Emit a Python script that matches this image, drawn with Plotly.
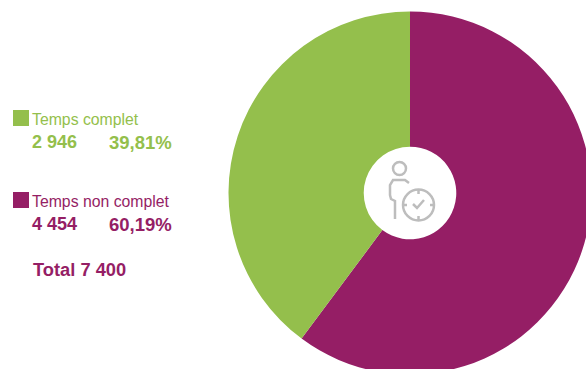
import plotly.graph_objects as go

categories = ["Temps non complet", "Temps complet"]
values = [4454, 2946]
colors = ["#951E65", "#94BF4C"]
counts = ["4 454", "2 946"]
percents = ["60,19%", "39,81%"]
total_label = "Total 7 400"

W, H = 594, 375
F = "Liberation Sans, Arial, sans-serif"
GRAY = "#BDBDBD"

def px(x):
    return x / W

def py(y):
    return 1 - y / H

fig = go.Figure(go.Pie(
    labels=categories, values=values, sort=False, direction="clockwise", rotation=0,
    hole=0.255, textinfo="none", hoverinfo="skip", showlegend=False,
    marker=dict(colors=colors, line=dict(width=0)),
    domain=dict(x=[228.5 / W, 591.5 / W], y=[1 - 374.5 / H, 1 - 11.5 / H]),
))

def text(x, y, s, color, size, bold=False):
    fig.add_annotation(
        x=px(x), y=py(y), xref="paper", yref="paper", xanchor="left", yanchor="middle",
        text=f"<b>{s}</b>" if bold else s, showarrow=False, align="left",
        font=dict(family=F, size=size, color=color), borderpad=0, borderwidth=0,
    )

def rect(x0, y0, x1, y1, color):
    fig.add_shape(type="rect", xref="paper", yref="paper", x0=px(x0), x1=px(x1),
                  y0=py(y0), y1=py(y1), fillcolor=color, line_width=0)

def circle(cx, cy, r):
    fig.add_shape(type="circle", xref="paper", yref="paper", x0=px(cx - r), x1=px(cx + r),
                  y0=py(cy - r), y1=py(cy + r), line=dict(color=GRAY, width=2.5),
                  fillcolor="rgba(0,0,0,0)")

def path(points):
    d = "M " + " L ".join(f"{px(x):.5f},{py(y):.5f}" for x, y in points)
    fig.add_shape(type="path", xref="paper", yref="paper", path=d,
                  line=dict(color=GRAY, width=2.5))

rect(13, 110, 29, 126, colors[1])
rect(13, 192, 29, 208, colors[0])
text(32, 119, categories[1], colors[1], 15.8)
text(32, 142, counts[1], colors[1], 18, True)
text(109, 142, percents[1], colors[1], 18.5, True)
text(32, 202, categories[0], colors[0], 15.8)
text(32, 224, counts[0], colors[0], 18, True)
text(109, 224, percents[0], colors[0], 18.5, True)
text(33, 269, total_label, colors[0], 18.3, True)

# icon
circle(399.5, 168.5, 6.5)
path([(395, 219), (395, 201), (391, 199), (390, 195), (390, 185), (393, 180), (405, 180), (409, 183)])
circle(418.5, 205, 15.5)
path([(413, 204), (417, 208), (424, 200)])
path([(418.5, 190), (418.5, 194)])
path([(418.5, 216), (418.5, 220)])
path([(403, 205), (407, 205)])
path([(430, 205), (434, 205)])

fig.update_layout(
    width=W, height=H, margin=dict(l=0, r=0, t=0, b=0),
    paper_bgcolor="white", plot_bgcolor="white",
)
fig.write_html(
    "out.html",
    config={"displayModeBar": False},
    post_script="document.documentElement.style.overflow='hidden';document.body.style.overflow='hidden';document.body.style.margin='0';",
)
